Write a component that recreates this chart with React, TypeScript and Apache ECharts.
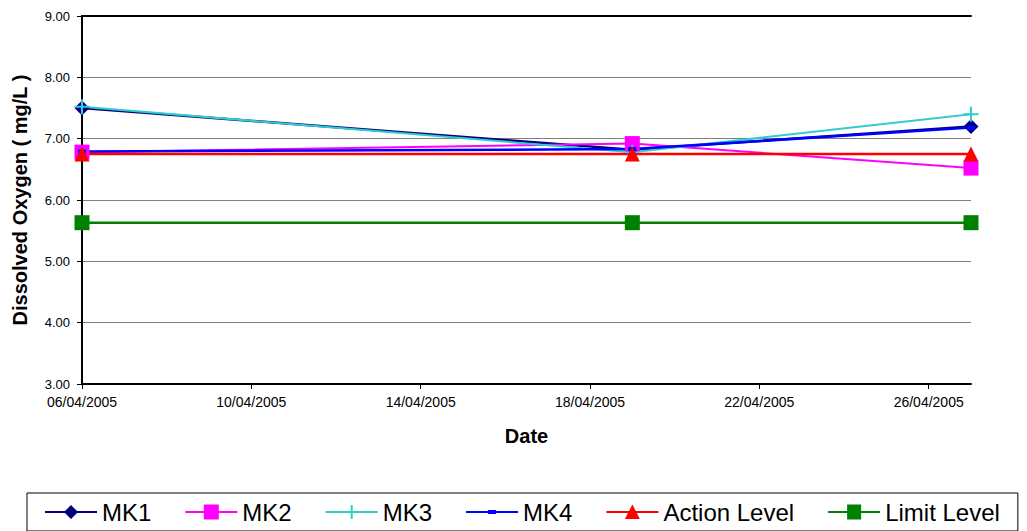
import React, { useEffect, useRef } from "react";
import * as echarts from "echarts";

// ---- data ----
const sampleDates = ["06/04/2005", "19/04/2005", "27/04/2005"];
const mk1 = [7.5, 6.82, 7.2];
const mk2 = [6.78, 6.92, 6.52];
const mk3 = [7.52, 6.78, 7.4];
const mk4 = [6.79, 6.83, 7.18];
const actionLevel = [6.75, 6.75, 6.75];
const limitLevel = [5.63, 5.63, 5.63];

const axisStart = "06/04/2005";
const axisEnd = "27/04/2005";
const xTickLabels = ["06/04/2005", "10/04/2005", "14/04/2005", "18/04/2005", "22/04/2005", "26/04/2005"];
const yMin = 3;
const yMax = 9;
const yStep = 1;

const seriesNames = ["MK1", "MK2", "MK3", "MK4", "Action Level", "Limit Level"];
// ---------------

const DAY = 86400000;
const parseDate = (s: string) => {
  const [d, m, y] = s.split("/").map(Number);
  return Date.UTC(y, m - 1, d);
};
const baseMs = parseDate(axisStart);
const dayIndex = (s: string) => Math.round((parseDate(s) - baseMs) / DAY);
const fmtDate = (v: number) => {
  const dt = new Date(baseMs + v * DAY);
  const dd = String(dt.getUTCDate()).padStart(2, "0");
  const mm = String(dt.getUTCMonth() + 1).padStart(2, "0");
  return `${dd}/${mm}/${dt.getUTCFullYear()}`;
};

const FONT = "'Liberation Sans', Arial, sans-serif";

const LINE = "M0 0 M52 16 M0 7 H52 V9 H0 Z ";
const icons: Record<string, string> = {
  MK1: "path://" + LINE + "M26 1 L33 8 L26 15 L19 8 Z",
  MK2: "path://" + LINE + "M18.5 0.5 H33.5 V15.5 H18.5 Z",
  MK3: "path://" + LINE + "M25 1 H27 V15 H25 Z",
  MK4: "path://" + LINE + "M22 6 H30 V10 H22 Z",
  "Action Level": "path://" + LINE + "M26 0.5 L33.5 15 L18.5 15 Z",
  "Limit Level": "path://" + LINE + "M19 0.5 H33 V15.5 H19 Z",
};

const crossSymbol = "path://M6.5 0 H8.5 V6.5 H15 V8.5 H8.5 V15 H6.5 V8.5 H0 V6.5 H6.5 Z";

const mkSeries = (name: string, values: number[], color: string, symbol: string, symbolSize: any, width: number) => ({
  name,
  type: "line",
  data: sampleDates.map((d, i) => [dayIndex(d), values[i]]),
  symbol,
  symbolSize,
  showSymbol: true,
  z: 10,
  clip: false,
  lineStyle: { color, width },
  itemStyle: { color, borderWidth: 0 },
  emphasis: { disabled: true },
});

export default function App() {
  const ref = useRef<HTMLDivElement>(null);
  useEffect(() => {
    const chart = echarts.init(ref.current!, null, { renderer: "svg" });
    const xMax = dayIndex(axisEnd);
    const xTicks = xTickLabels.map(dayIndex);
    chart.setOption({
      animation: false,
      backgroundColor: "#ffffff",
      textStyle: { fontFamily: FONT },
      grid: { left: 82, top: 16, width: 889, height: 368, containLabel: false },
      xAxis: [
        {
          type: "value",
          min: 0,
          max: xMax,
          z: 5,
          name: "Date",
          nameLocation: "middle",
          nameGap: 42,
          nameTextStyle: { fontSize: 20, fontWeight: "bold", color: "#000", fontFamily: FONT },
          axisLine: { show: true, lineStyle: { color: "#000", width: 2 } },
          axisTick: { show: true, length: 5, lineStyle: { color: "#000", width: 1 }, customValues: xTicks },
          axisLabel: { color: "#000", fontSize: 14, fontFamily: FONT, margin: 11, customValues: xTicks, formatter: (v: number) => fmtDate(v) },
          splitLine: { show: false },
        },
        {
          type: "value",
          position: "top",
          min: 0,
          max: xMax,
          z: 5,
          axisLine: { show: true, lineStyle: { color: "#000", width: 2 } },
          axisTick: { show: false },
          axisLabel: { show: false },
          splitLine: { show: false },
        },
      ],
      yAxis: [
        {
          type: "value",
          min: yMin,
          max: yMax,
          interval: yStep,
          name: "Dissolved Oxygen ( mg/L )",
          nameLocation: "middle",
          nameGap: 52,
          nameTextStyle: { fontSize: 20, fontWeight: "bold", color: "#000", fontFamily: FONT },
          axisLine: { show: true, lineStyle: { color: "#000", width: 2 } },
          axisTick: { show: true, length: 5, lineStyle: { color: "#000", width: 1 } },
          axisLabel: { color: "#000", fontSize: 13, fontFamily: FONT, margin: 12, formatter: (v: number) => v.toFixed(2) },
          splitLine: { show: true, lineStyle: { color: "#808080", width: 1 } },
        },
        {
          type: "value",
          position: "right",
          min: yMin,
          max: yMax,
          interval: yStep,
          z: 5,
          axisLine: { show: true, lineStyle: { color: "#000", width: 2 } },
          axisTick: { show: false },
          axisLabel: { show: false },
          splitLine: { show: false },
        },
      ],
      legend: {
        left: 27,
        top: 493,
        orient: "horizontal",
        padding: [7, 18, 7, 18],
        itemWidth: 52,
        itemHeight: 16,
        itemGap: 34,
        borderColor: "#000",
        borderWidth: 1,
        backgroundColor: "#fff",
        selectedMode: false,
        textStyle: { fontSize: 24, color: "#000", fontFamily: FONT },
        data: seriesNames.map((n) => ({ name: n, icon: icons[n] })),
      },
      series: [
        mkSeries("MK1", mk1, "#000080", "diamond", 15, 2.5),
        mkSeries("MK2", mk2, "#FF00FF", "rect", 15, 2),
        mkSeries("MK3", mk3, "#33CCCC", crossSymbol, 15, 2),
        mkSeries("MK4", mk4, "#0000FF", "rect", [8, 4], 2.5),
        mkSeries("Action Level", actionLevel, "#FF0000", "triangle", 15, 2.5),
        mkSeries("Limit Level", limitLevel, "#008000", "rect", 15, 2.5),
      ],
    });
    return () => chart.dispose();
  }, []);
  return (
    <div style={{ position: "fixed", left: 0, top: 0, width: 1027, height: 531, overflow: "hidden", background: "#fff" }}>
      <div ref={ref} style={{ width: 1100, height: 531 }} />
    </div>
  );
}
